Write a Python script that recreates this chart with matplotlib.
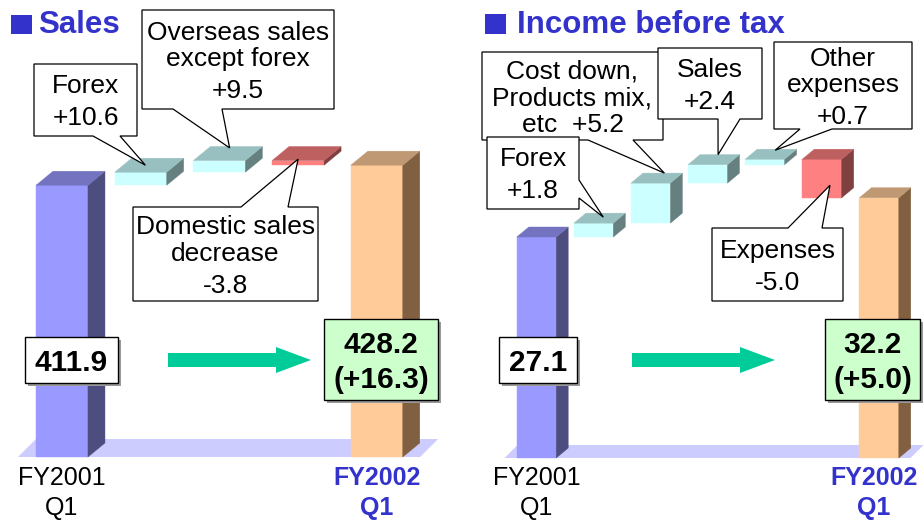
import matplotlib
matplotlib.use("Agg")
import matplotlib.pyplot as plt
from matplotlib.patches import Polygon
from matplotlib.transforms import Affine2D

plt.rcParams['font.family'] = ['Liberation Sans', 'DejaVu Sans']

# ---------------- data ----------------
sales_title = "Sales"
sales_start = 411.9
sales_changes = [10.6, 9.5, -3.8]
sales_change_labels = ["Forex", "Overseas sales\nexcept forex", "Domestic sales\ndecrease"]
sales_end = 428.2
sales_diff = 16.3

income_title = "Income before tax"
income_start = 27.1
income_changes = [1.8, 5.2, 2.4, 0.7, -5.0]
income_change_labels = ["Forex", "Cost down,\nProducts mix,\netc", "Sales", "Other\nexpenses", "Expenses"]
income_value_inline = [False, True, False, False, False]
income_end = 32.2
income_diff = 5.0

start_label = ["FY2001", "Q1"]
end_label = ["FY2002", "Q1"]

# ---------------- style ----------------
W, H = 924, 520
BLUE_TXT = '#3333cc'
C_START = ('#9999ff', '#7373bf', '#4d4d80')
C_END = ('#ffcc99', '#bf9973', '#806040')
C_UP = ('#ccffff', '#99c0c0', '#668080')
C_DOWN = ('#ff8080', '#bf6060', '#804040')
FLOOR = '#ccccff'
ARROW = '#00cc99'

fig = plt.figure(figsize=(W / 100, H / 100), dpi=100)
PX = Affine2D().scale(1 / W, -1 / H).translate(0, 1) + fig.transFigure


def to_px(ax, x, y):
    d = ax.transData.transform((x, y))
    f = fig.transFigure.inverted().transform(d)
    return f[0] * W, (1 - f[1]) * H


def bar3d(ax, x, y0, y1, w, ddx, ddy, cols):
    front, top, side = cols
    lo, hi = min(y0, y1), max(y0, y1)
    xl, xr = x - w / 2, x + w / 2
    ax.add_patch(Polygon([(xl, lo), (xr, lo), (xr, hi), (xl, hi)], closed=True,
                         fc=front, ec=front, lw=0.3))
    ax.add_patch(Polygon([(xr, lo), (xr + ddx, lo + ddy), (xr + ddx, hi + ddy), (xr, hi)],
                         closed=True, fc=side, ec=side, lw=0.3))
    ax.add_patch(Polygon([(xl, hi), (xr, hi), (xr + ddx, hi + ddy), (xl + ddx, hi + ddy)],
                         closed=True, fc=top, ec=top, lw=0.3))
    return lo, hi


def panel(rect, xlim, ylim, base, start, changes, end, w, ddx, ddy, fdx, fdy):
    ax = fig.add_axes(rect)
    ax.set_xlim(xlim)
    ax.set_ylim(ylim)
    ax.axis('off')
    n = len(changes) + 2
    xl, xr = -0.56, n - 1 + 0.55
    ax.add_patch(Polygon([(xl, base), (xr, base), (xr + fdx, base + fdy), (xl + fdx, base + fdy)],
                         closed=True, fc=FLOOR, ec='none'))
    bar3d(ax, 0, base, start, w, ddx, ddy, C_START)
    cur = start
    spans = []
    for i, c in enumerate(changes, start=1):
        nxt = cur + c
        spans.append(bar3d(ax, i, cur, nxt, w, ddx, ddy, C_UP if c > 0 else C_DOWN))
        cur = nxt
    bar3d(ax, n - 1, base, end, w, ddx, ddy, C_END)
    return ax, spans


z = [10]


def nz():
    z[0] += 1
    return z[0]


def callout(box, side, base, tip, lines, value_line, inline=False):
    x0, y0, x1, y1 = box
    a, b = base
    if side == 'bottom':
        pts = [(x0, y0), (x1, y0), (x1, y1), (b, y1), tip, (a, y1), (x0, y1)]
    elif side == 'top':
        pts = [(x0, y0), (a, y0), tip, (b, y0), (x1, y0), (x1, y1), (x0, y1)]
    else:
        pts = [(x0, y0), (x1, y0), (x1, a), tip, (x1, b), (x1, y1), (x0, y1)]
    zz = nz()
    fig.add_artist(Polygon(pts, closed=True, transform=PX, fc='white', ec='black', lw=0.9, zorder=zz))
    size = 19
    cap = 0.716 * size * 100 / 72
    txt = lines.split("\n")
    if inline:
        txt[-1] = txt[-1] + "  " + value_line
        offs = [26.5 * i for i in range(len(txt))]
    else:
        offs = [26.5 * i for i in range(len(txt))]
        offs.append(offs[-1] + 32)
        txt.append(value_line)
    total = offs[-1]
    cx, cy = (x0 + x1) / 2, (y0 + y1) / 2
    first = cy - total / 2 + cap / 2
    for t, o in zip(txt, offs):
        fig.text(cx / W, 1 - (first + o) / H, t, ha='center', va='baseline',
                 fontsize=size, color='black', zorder=zz)


def value_box(box, lines, fc):
    x0, y0, x1, y1 = box
    zz = nz()
    fig.add_artist(Polygon([(x0 + 3, y0 + 3), (x1 + 3, y0 + 3), (x1 + 3, y1 + 3), (x0 + 3, y1 + 3)],
                           closed=True, transform=PX, fc='#999999', ec='none', zorder=zz))
    fig.add_artist(Polygon([(x0, y0), (x1, y0), (x1, y1), (x0, y1)], closed=True, transform=PX,
                           fc=fc, ec='black', lw=1.0, zorder=zz))
    size = 21.5
    cap = 0.716 * size * 100 / 72
    sp = 35
    cx, cy = (x0 + x1) / 2, (y0 + y1) / 2
    first = cy - sp * (len(lines) - 1) / 2 + cap / 2
    for i, t in enumerate(lines):
        fig.text(cx / W, 1 - (first + i * sp) / H, t, ha='center', va='baseline',
                 fontsize=size, fontweight='bold', color='black', zorder=zz)


def arrow(x0, x1, xh, y):
    pts = [(x0, y - 7), (x1, y - 7), (x1, y - 13), (xh, y), (x1, y + 13), (x1, y + 7), (x0, y + 7)]
    fig.add_artist(Polygon(pts, closed=True, transform=PX, fc=ARROW, ec='none', zorder=nz()))


def title(sq, x, text):
    x0, y0, x1, y1 = sq
    fig.add_artist(Polygon([(x0, y0), (x1, y0), (x1, y1), (x0, y1)], closed=True, transform=PX,
                           fc=BLUE_TXT, ec='none', zorder=nz()))
    fig.text(x / W, 1 - 33 / H, text, ha='left', va='baseline', fontsize=22.5,
             fontweight='bold', color=BLUE_TXT)


def xlabels(ax, xi, lines, bold):
    px, _ = to_px(ax, xi, 0)
    px = min(px, W - 50)
    for i, t in enumerate(lines):
        fig.text(px / W, 1 - (485 + 30 * i) / H, t, ha='center', va='baseline', fontsize=18,
                 fontweight='bold' if bold else 'normal', color=BLUE_TXT if bold else 'black')


# ---------------- left panel: Sales ----------------
axL, spL = panel([0, 0, 0.5, 1], (-0.7878, 5.0826), (139.78, 562.5), 191,
                 sales_start, sales_changes, sales_end, 0.66, 0.216, 11.4, 0.229, 14.6)

tipsL = [(0.06, 0.5), (0.13, 0.9), (0.0, 0.1)]
boxesL = [((34, 64, 137, 136), 'bottom', (93, 120)),
          ((142, 10, 334, 109), 'bottom', (173, 222)),
          ((133, 207, 318, 301), 'top', (241, 288))]
for i, (c, lab) in enumerate(zip(sales_changes, sales_change_labels)):
    lo, hi = spL[i]
    tx, ty = tipsL[i]
    tip = to_px(axL, i + 1 + tx, hi + ty * 11.4)
    box, side, base = boxesL[i]
    callout(box, side, base, tip, lab, f"{c:+.1f}")

arrow(168, 276, 311, 360)
value_box((25, 337, 118, 383), [f"{sales_start:.1f}"], 'white')
value_box((324, 319, 438, 400), [f"{sales_end:.1f}", f"({sales_diff:+.1f})"], '#ccffcc')
xlabels(axL, 0, start_label, False)
xlabels(axL, len(sales_changes) + 1, end_label, True)
title((11, 15, 32, 34), 38, sales_title)

# ---------------- right panel: Income before tax ----------------
axR, spR = panel([0.5, 0, 0.5, 1], (-1.3047, 6.7864), (-9.65, 57.88), -1.6,
                 income_start, income_changes, income_end, 0.69, 0.21, 1.3, 0.228, 1.69)

tipsR = [(0.17, 0.6), (0.24, 1.0), (0.18, 1.0), (0.18, 0.9), (0.14, -2.6)]
boxesR = [((487, 137, 579, 209), 'right', (180, 198)),
          ((482, 52, 663, 140), 'bottom', (588, 633)),
          ((658, 48, 762, 119), 'bottom', (718, 740)),
          ((774, 42, 912, 129), 'bottom', (800, 832)),
          ((712, 228, 843, 301), 'top', (788, 822))]
order = [1, 0, 2, 3, 4]
for i in order:
    c, lab = income_changes[i], income_change_labels[i]
    lo, hi = spR[i]
    tx, ty = tipsR[i]
    tip = to_px(axR, i + 1 + tx, hi + ty * 1.3)
    box, side, base = boxesR[i]
    callout(box, side, base, tip, lab, f"{c:+.1f}", inline=income_value_inline[i])

arrow(632, 740, 775, 360)
value_box((499, 337, 577, 383), [f"{income_start:.1f}"], 'white')
value_box((825, 319, 920, 400), [f"{income_end:.1f}", f"({income_diff:+.1f})"], '#ccffcc')
xlabels(axR, 0, start_label, False)
xlabels(axR, len(income_changes) + 1, end_label, True)
title((485, 14, 506, 34), 517, income_title)

fig.savefig("out.png", dpi=100)
